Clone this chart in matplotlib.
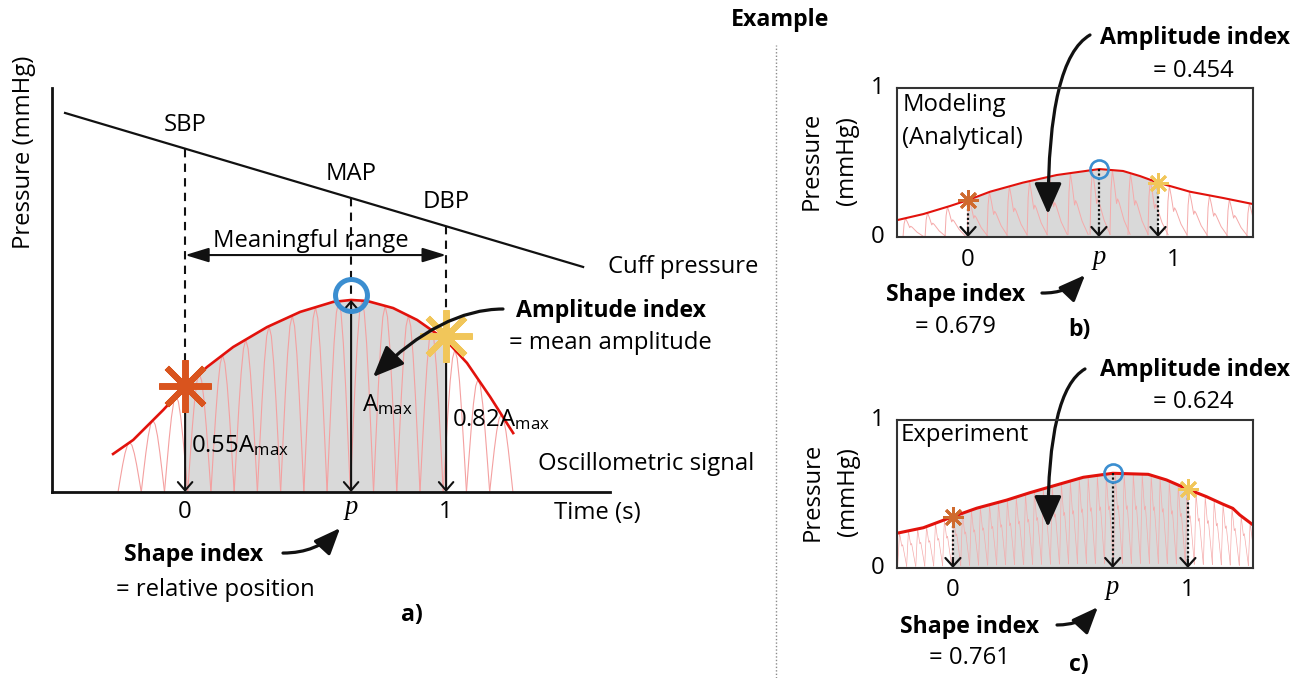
import numpy as np
import matplotlib
matplotlib.use("Agg")
import matplotlib.pyplot as plt
from matplotlib.patches import FancyArrowPatch
from matplotlib.lines import Line2D

plt.rcParams['font.family'] = ['Open Sans', 'DejaVu Sans']
plt.rcParams['mathtext.fontset'] = 'custom'
plt.rcParams['mathtext.rm'] = 'Open Sans'
plt.rcParams['mathtext.it'] = 'Open Sans:italic'
plt.rcParams['mathtext.bf'] = 'Open Sans:bold'

# ---------------- data: panel a (schematic) ----------------
a_env_t = [-0.276, -0.199, -0.084, 0.0, 0.084, 0.184, 0.314, 0.441, 0.567, 0.636,
           0.697, 0.797, 0.889, 1.0, 1.080, 1.169, 1.257]
a_env_y = [0.198, 0.271, 0.427, 0.55, 0.651, 0.755, 0.859, 0.938, 0.990, 1.0,
           0.995, 0.958, 0.896, 0.79, 0.672, 0.495, 0.307]
a_beat_t = [-0.257, -0.168, -0.079, 0.010, 0.099, 0.188, 0.277, 0.366, 0.455,
            0.544, 0.633, 0.722, 0.811, 0.900, 0.989, 1.078, 1.167]
a_beat_period = 0.089
a_pulse_phase = [0, 0.1, 0.2, 0.3, 0.4, 0.5, 0.6, 0.7, 0.8, 0.9, 1.0]
a_pulse_shape = [0, 0.28, 0.55, 0.78, 0.94, 1.0, 0.94, 0.78, 0.55, 0.28, 0]
a_cuff_t = [-0.46, 1.525]
a_cuff_y = [1.974, 1.172]
a_mark_t = [0.0, 0.636, 1.0]
a_mark_y = [0.55, 1.0, 0.79]
a_mark_names = ['SBP', 'MAP', 'DBP']
a_tick_labels = ['0', 'p', '1']

# ---------------- data: panel b (modeling) ----------------
b_env_t = [-0.374, -0.235, -0.095, 0.0, 0.116, 0.289, 0.467, 0.691, 0.816, 0.905,
           1.0, 1.168, 1.342, 1.5]
b_env_y = [0.113, 0.154, 0.208, 0.248, 0.304, 0.365, 0.416, 0.456, 0.443, 0.409,
           0.365, 0.304, 0.262, 0.221]
b_beat_t = [-0.342, -0.226, -0.121, -0.005, 0.100, 0.205, 0.311, 0.416, 0.526,
            0.642, 0.747, 0.842, 0.947, 1.047, 1.153, 1.258, 1.363, 1.468]
b_beat_period = 0.106
b_pulse_phase = [0, 0.05, 0.12, 0.22, 0.33, 0.38, 0.45, 0.7, 1.0]
b_pulse_shape = [0.04, 0.7, 1.0, 0.78, 0.5, 0.57, 0.52, 0.25, 0.04]
b_mark_t = [0.0, 0.689, 1.0]
b_mark_y = [0.248, 0.456, 0.365]
b_amplitude_index = "0.454"
b_shape_index = "0.679"

# ---------------- data: panel c (experiment) ----------------
c_env_t = [-0.238, -0.126, 0.0, 0.101, 0.229, 0.328, 0.441, 0.555, 0.680, 0.831,
           0.909, 1.0, 1.079, 1.148, 1.191, 1.221, 1.277]
c_env_y = [0.235, 0.272, 0.347, 0.404, 0.459, 0.509, 0.561, 0.613, 0.640, 0.633,
           0.595, 0.532, 0.482, 0.432, 0.403, 0.358, 0.291]
c_beat_t = [-0.235, -0.197, -0.158, -0.120, -0.082, -0.044, -0.005, 0.033, 0.071,
            0.109, 0.148, 0.186, 0.224, 0.262, 0.301, 0.339, 0.377, 0.415, 0.454,
            0.492, 0.530, 0.568, 0.607, 0.645, 0.683, 0.721, 0.760, 0.798, 0.836,
            0.874, 0.913, 0.951, 0.989, 1.027, 1.066, 1.104, 1.142, 1.180, 1.219,
            1.257]
c_beat_period = 0.0383
c_pulse_phase = [0, 0.2, 0.45, 0.55, 1.0]
c_pulse_shape = [0.05, 1.0, 0.62, 0.66, 0.05]
c_mark_t = [0.0, 0.68, 1.0]
c_mark_y = [0.347, 0.640, 0.532]
c_amplitude_index = "0.624"
c_shape_index = "0.761"

# ---------------- styles ----------------
W, H = 1307, 678
RED = '#e2120c'
PULSE = '#f4a0a0'
GRAY = '#d9d9d9'
ORANGE = '#d9541e'
ORANGE2 = '#cf6a2e'
YELLOW = '#f1c65a'
BLUE = '#3b8ed0'
FS = 17.2     # regular text
FSB = 16.7    # bold text
SERIF = ['Liberation Serif', 'DejaVu Serif']

fig = plt.figure(figsize=(W / 100, H / 100), dpi=100)


def frac(x0, y0, x1, y1):
    return [x0 / W, 1 - y1 / H, (x1 - x0) / W, (y1 - y0) / H]


def draw_pulses(ax, beats, period, phase, shape, env_t, env_y, color, lw):
    ph = np.asarray(phase)
    sh = np.asarray(shape)
    kpk = int(np.argmax(sh))
    for b in beats:
        tt = b + ph * period
        peak = np.interp(b + ph[kpk] * period, env_t, env_y)
        ax.plot(tt, sh * peak, color=color, lw=lw, zorder=2, solid_joinstyle='round')


def fill_meaningful(ax, env_t, env_y):
    t = np.asarray(env_t)
    ax.fill_between(t, 0, env_y, where=(t >= 0) & (t <= 1), color=GRAY, lw=0, zorder=1)


def curved_arrow(ax, p0, p1, cs, hl, hw, lw=2.3):
    ar = FancyArrowPatch(p0, p1, connectionstyle=cs,
                         arrowstyle=f'-|>,head_length={hl},head_width={hw}',
                         mutation_scale=20, lw=lw, color='#111111',
                         shrinkA=0, shrinkB=0, zorder=8, clip_on=False)
    ax.add_patch(ar)


def chevron(ax, t, y0, y1, lw, hl=0.3, hw=0.27):
    ar = FancyArrowPatch((t, y0), (t, y1),
                         arrowstyle=f'->,head_length={hl},head_width={hw}',
                         mutation_scale=20, lw=lw, color='#111111',
                         shrinkA=0, shrinkB=0, zorder=6, clip_on=False)
    ax.add_patch(ar)


# ====================== panel a ======================
ax = fig.add_axes(frac(52, 88, 610, 492))
ax.set_xlim(-0.51, 1.628)
ax.set_ylim(0, 2.104)
ax.patch.set_visible(False)
for s in ['top', 'right']:
    ax.spines[s].set_visible(False)
for s in ['left', 'bottom']:
    ax.spines[s].set_linewidth(2.0)
    ax.spines[s].set_color('#111111')
ax.set_xticks([])
ax.set_yticks([])

fill_meaningful(ax, a_env_t, a_env_y)
draw_pulses(ax, a_beat_t, a_beat_period, a_pulse_phase, a_pulse_shape,
            a_env_t, a_env_y, PULSE, 0.8)
ax.plot(a_env_t, a_env_y, color=RED, lw=1.9, zorder=3)
ax.plot(a_cuff_t, a_cuff_y, color='#111111', lw=1.6, zorder=3)

cuff_at = np.interp(a_mark_t, a_cuff_t, a_cuff_y)
for t, y, yc, name in zip(a_mark_t, a_mark_y, cuff_at, a_mark_names):
    ax.plot([t, t], [yc, y], color='#111111', lw=1.5, ls=(0, (4, 3)), zorder=3)
    ax.text(t, yc + 0.125, name, ha='center', va='center', fontsize=FS)

# vertical arrows
chevron(ax, a_mark_t[0], a_mark_y[0], 0, 1.5, 0.3, 0.26)
chevron(ax, a_mark_t[2], a_mark_y[2], 0, 1.5, 0.3, 0.26)
amax = FancyArrowPatch((a_mark_t[1], 0), (a_mark_t[1], a_mark_y[1]),
                       arrowstyle='<->,head_length=0.3,head_width=0.26',
                       mutation_scale=20, lw=1.5, color='#111111',
                       shrinkA=0, shrinkB=0, zorder=6)
ax.add_patch(amax)

# markers
ax.plot(a_mark_t[0], a_mark_y[0], marker=(8, 2, 0), ms=38, mew=4.3,
        color=ORANGE, zorder=7, clip_on=False)
ax.plot(a_mark_t[1], a_mark_y[1] + 0.025, marker='o', ms=23, mew=3.6,
        mfc='none', mec=BLUE, zorder=7, clip_on=False)
ax.plot(a_mark_t[2], a_mark_y[2] + 0.02, marker=(8, 2, 0), ms=38, mew=4.3,
        color=YELLOW, zorder=7, clip_on=False)

# meaningful range
mr = FancyArrowPatch((a_mark_t[0], 1.234), (a_mark_t[2], 1.234),
                     arrowstyle='<|-|>,head_length=0.72,head_width=0.22',
                     mutation_scale=20, lw=1.5, color='#111111',
                     shrinkA=0, shrinkB=0, zorder=6)
ax.add_patch(mr)
ax.text(0.483, 1.307, 'Meaningful range', ha='center', va='center', fontsize=FS)

# labels
ax.text(-0.618, 1.77, 'Pressure (mmHg)', rotation=90, ha='center', va='center',
        fontsize=FS, clip_on=False)
ax.text(1.621, 1.172, 'Cuff pressure', ha='left', va='center', fontsize=FS, clip_on=False)
ax.text(1.268, 0.943, 'Amplitude index', ha='left', va='center', fontsize=FSB,
        fontweight='bold', clip_on=False)
ax.text(1.241, 0.776, '= mean amplitude', ha='left', va='center', fontsize=FS, clip_on=False)
ax.text(1.352, 0.146, 'Oscillometric signal', ha='left', va='center', fontsize=FS,
        clip_on=False)
ax.text(1.414, -0.109, 'Time (s)', ha='left', va='center', fontsize=FS, clip_on=False)
ax.text(0.678, 0.422, r'A$_{\mathrm{max}}$', ha='left', va='baseline', fontsize=FS)
ax.text(0.023, 0.208, r'0.55A$_{\mathrm{max}}$', ha='left', va='baseline', fontsize=FS)
ax.text(1.023, 0.344, r'0.82A$_{\mathrm{max}}$', ha='left', va='baseline',
        fontsize=FS, clip_on=False)
for t, lab in zip(a_mark_t, a_tick_labels):
    if lab == 'p':
        ax.text(t, -0.083, lab, ha='center', va='center', fontsize=FS + 2,
                family=SERIF, style='italic', clip_on=False)
    else:
        ax.text(t, -0.104, lab, ha='center', va='center', fontsize=FS, clip_on=False)
ax.text(0.031, -0.328, 'Shape index', ha='center', va='center', fontsize=FSB,
        fontweight='bold', clip_on=False)
ax.text(0.115, -0.51, '= relative position', ha='center', va='center', fontsize=FS,
        clip_on=False)
ax.text(0.870, -0.641, 'a)', ha='center', va='center', fontsize=FSB,
        fontweight='bold', clip_on=False)

curved_arrow(ax, (1.218, 0.953), (0.720, 0.599), 'angle3,angleA=0,angleB=45', 0.95, 0.4)
curved_arrow(ax, (0.375, -0.318), (0.594, -0.1875), 'arc3,rad=0.22', 0.8, 0.33)


# ====================== panels b, c ======================
def small_panel(box, xlim, env_t, env_y, beats, period, phase, shape,
                mark_t, mark_y, env_lw, pulse_lw, title_lines, amp, shp, letter,
                lay):
    ax = fig.add_axes(frac(*box))
    ax.set_xlim(*xlim)
    ax.set_ylim(0, 1)
    ax.set_xticks([])
    ax.set_yticks([])
    ax.patch.set_visible(False)
    for s in ax.spines.values():
        s.set_linewidth(1.5)
        s.set_color('#333333')
        s.set_zorder(9)
    fill_meaningful(ax, env_t, env_y)
    draw_pulses(ax, beats, period, phase, shape, env_t, env_y, '#f5aaaa', pulse_lw)
    ax.plot(env_t, env_y, color=RED, lw=env_lw, zorder=3)
    for t, y in zip(mark_t, mark_y):
        ax.plot([t, t], [y, 0.06], color='#111111', lw=1.6, ls=(0, (1, 1)), zorder=5)
        chevron(ax, t, 0.06, 0.0, 1.6, 0.3, 0.27)
    ax.plot(mark_t[0], mark_y[0], marker=(8, 2, 0), ms=15, mew=2.0,
            color=ORANGE2, zorder=7)
    ax.plot(mark_t[1], mark_y[1], marker='o', ms=13, mew=1.9, mfc='none',
            mec=BLUE, zorder=7)
    ax.plot(mark_t[2], mark_y[2], marker=(8, 2, 0), ms=15, mew=2.0,
            color=YELLOW, zorder=7)

    # axis numbers
    ax.text(lay['ytx'], 1.0, '1', ha='center', va='center', fontsize=FS, clip_on=False)
    ax.text(lay['ytx'], 0.0, '0', ha='center', va='center', fontsize=FS, clip_on=False)
    ax.text(lay['yl1'], lay['ylc'], 'Pressure', rotation=90, ha='center', va='center',
            fontsize=FS, clip_on=False)
    ax.text(lay['yl2'], lay['ylc'], '(mmHg)', rotation=90, ha='center', va='center',
            fontsize=FS, clip_on=False)
    ax.text(mark_t[0], lay['xty'], '0', ha='center', va='center', fontsize=FS,
            clip_on=False)
    ax.text(mark_t[1], lay['xty'] + 0.015, 'p', ha='center', va='center',
            fontsize=FS + 2, family=SERIF, style='italic', clip_on=False)
    ax.text(lay['one_x'], lay['xty'], '1', ha='center', va='center', fontsize=FS,
            clip_on=False)
    for i, line in enumerate(title_lines):
        ax.text(lay['ttx'], lay['tty'][i], line, ha='left', va='center', fontsize=FS,
                clip_on=False)
    ax.text(lay['aix'], lay['aiy'], 'Amplitude index', ha='left', va='center',
            fontsize=FSB, fontweight='bold', clip_on=False)
    ax.text(lay['avx'], lay['avy'], '= ' + amp, ha='left', va='center',
            fontsize=FS, clip_on=False)
    ax.text(lay['six'], lay['siy'], 'Shape index', ha='center', va='center',
            fontsize=FSB, fontweight='bold', clip_on=False)
    ax.text(lay['six'], lay['svy'], '= ' + shp, ha='center', va='center',
            fontsize=FS, clip_on=False)
    ax.text(lay['lx'], lay['ly'], letter, ha='center', va='center',
            fontsize=FSB, fontweight='bold', clip_on=False)
    curved_arrow(ax, lay['aa0'], lay['aa1'], 'angle3,angleA=30,angleB=90', 0.95, 0.42)
    curved_arrow(ax, lay['sa0'], lay['sa1'], 'arc3,rad=0.22', 0.8, 0.33)
    return ax


lay_b = dict(ytx=-0.474, yl1=-0.821, yl2=-0.637, ylc=0.51, xty=-0.154, one_x=1.084,
             ttx=-0.347, tty=[0.886, 0.664], aix=0.695, aiy=1.336, avx=0.974,
             avy=1.114, six=-0.068, siy=-0.389, svy=-0.604, lx=0.584, ly=-0.624,
             aa0=(0.642, 1.356), aa1=(0.421, 0.154), sa0=(0.389, -0.376),
             sa1=(0.616, -0.255))
small_panel((897, 88, 1253, 237), (-0.374, 1.5), b_env_t, b_env_y, b_beat_t,
            b_beat_period, b_pulse_phase, b_pulse_shape, b_mark_t, b_mark_y,
            1.5, 0.7, ['Modeling', '(Analytical)'], b_amplitude_index,
            b_shape_index, 'b)', lay_b)

lay_c = dict(ytx=-0.319, yl1=-0.596, yl2=-0.447, ylc=0.514, xty=-0.149, one_x=1.0,
             ttx=-0.221, tty=[0.899], aix=0.626, aiy=1.338, avx=0.851,
             avy=1.122, six=0.072, siy=-0.399, svy=-0.608, lx=0.536, ly=-0.655,
             aa0=(0.562, 1.345), aa1=(0.404, 0.277), sa0=(0.443, -0.385),
             sa1=(0.617, -0.264))
small_panel((897, 420, 1253, 568), (-0.238, 1.277), c_env_t, c_env_y, c_beat_t,
            c_beat_period, c_pulse_phase, c_pulse_shape, c_mark_t, c_mark_y,
            2.2, 0.5, ['Experiment'], c_amplitude_index, c_shape_index, 'c)', lay_c)

# ---------------- header & divider ----------------
fig.text(780 / W, 1 - 20 / H, 'Example', ha='center', va='center', fontsize=FSB,
         fontweight='bold')
fig.add_artist(Line2D([776 / W, 776 / W], [0, 1 - 45 / H], transform=fig.transFigure,
                      color='#8a8a8a', lw=1.0, ls=(0, (1, 1.5))))

fig.savefig('out.png', dpi=100, facecolor='white')
